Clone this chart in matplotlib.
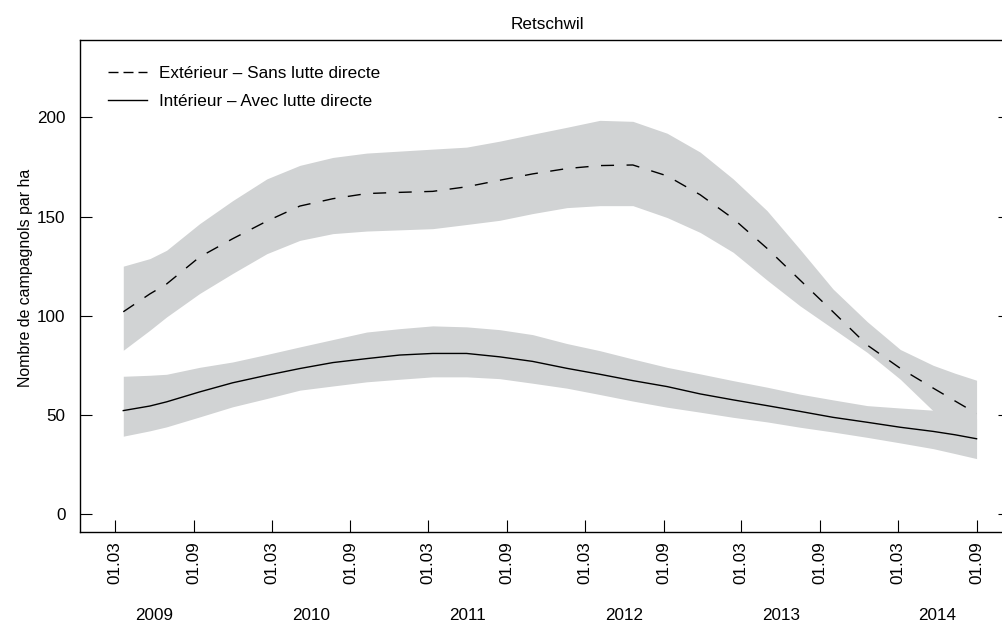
import numpy as np
import matplotlib
matplotlib.use("Agg")
import matplotlib.pyplot as plt
from matplotlib.lines import Line2D
from matplotlib.transforms import blended_transform_factory

# ---------------- data ----------------
dates = np.array([
    "2009-03-20", "2009-05-21", "2009-06-29", "2009-09-14", "2009-11-30",
    "2010-02-18", "2010-05-06", "2010-07-22", "2010-10-09", "2010-12-25",
    "2011-03-12", "2011-05-30", "2011-08-15", "2011-10-31", "2012-01-19",
    "2012-04-05", "2012-06-21", "2012-09-09", "2012-11-25", "2013-02-10",
    "2013-04-30", "2013-07-16", "2013-10-01", "2013-12-20", "2014-03-07",
    "2014-05-23", "2014-07-13", "2014-09-01"], dtype="datetime64[D]")

ext_mean = [102, 111, 116, 129.6, 138.8, 147.7, 155.3, 159, 161.6, 162.2,
            162.7, 165, 168.3, 171.5, 174.2, 175.7, 176, 170.5, 161, 149,
            134, 118, 102, 85.2, 73.5, 63.5, 57, 50.7]
ext_hi = [125, 128.8, 133, 146.4, 158, 169, 175.8, 179.8, 182, 183,
          184, 185, 188, 191.5, 195, 198.5, 198, 192, 182.5, 169,
          153, 133.5, 113.5, 97, 83, 75, 71, 67.5]
ext_lo = [82.6, 92.7, 99.4, 111.2, 121.3, 131.3, 138, 141.4, 142.7, 143.3,
          143.9, 146, 148.1, 151.5, 154.5, 155.5, 155.5, 149.5, 142, 132,
          118, 105, 93.5, 81.5, 68, 52, 45, 38]

int_mean = [52.2, 54.5, 56.6, 61.6, 66.2, 70, 73.4, 76.4, 78.4, 80.2,
            81, 81, 79.3, 77, 73.5, 70.5, 67.3, 64.3, 60.6, 57.6,
            54.7, 51.8, 48.8, 46.3, 43.8, 41.7, 40, 38]
int_hi = [69.5, 70, 70.5, 74, 76.7, 80.5, 84.3, 88, 91.8, 93.5,
          94.9, 94.4, 93, 90.5, 86, 82.4, 78.2, 74, 70.7, 67.3,
          64, 60.5, 57.6, 54.7, 53.5, 52.4, 50, 48]
int_lo = [39.3, 42, 44, 49, 54.1, 58.3, 62.5, 64.6, 66.7, 68,
          69.2, 69.2, 68.3, 66, 63.5, 60.3, 57, 53.9, 51.4, 48.8,
          46.5, 43.8, 41.4, 38.7, 35.9, 33, 30.5, 28]

tick_dates = np.array(["2009-03-01", "2009-09-01", "2010-03-01", "2010-09-01",
                       "2011-03-01", "2011-09-01", "2012-03-01", "2012-09-01",
                       "2013-03-01", "2013-09-01", "2014-03-01", "2014-09-01"],
                      dtype="datetime64[D]")
tick_labels = ["01.03", "01.09"] * 6
years = ["2009", "2010", "2011", "2012", "2013", "2014"]
year_pos = np.array(["2009-06-01", "2010-06-01", "2011-06-01",
                     "2012-06-01", "2013-06-01", "2014-06-01"], dtype="datetime64[D]")
yticks = [0, 50, 100, 150, 200]

label_ext = "Extérieur – Sans lutte directe"
label_int = "Intérieur – Avec lutte directe"

# ---------------- style ----------------
REG = ["Liberation Sans", "DejaVu Sans"]
plt.rcParams["font.family"] = REG
band_col = "#d1d3d4"

W, H = 1002, 621
fig = plt.figure(figsize=(W / 100, H / 100), dpi=100)
ax = fig.add_axes([80 / W, 89 / H, 930 / W, 492 / H])

ax.fill_between(dates, ext_lo, ext_hi, color=band_col, lw=0)
ax.fill_between(dates, int_lo, int_hi, color=band_col, lw=0)
ax.plot(dates, ext_mean, color="black", lw=1.0, linestyle=(0, (9.4, 9.0)))
ax.plot(dates, int_mean, color="black", lw=1.0)

ax.set_xlim(np.datetime64("2008-12-09"), np.datetime64("2014-11-18"))
ax.set_ylim(-9, 239)

ax.set_xticks(tick_dates)
ax.set_xticklabels(tick_labels, rotation=90, fontsize=12.3)
ax.set_yticks(yticks)
ax.set_yticklabels([str(v) for v in yticks], fontsize=12.3)

ax.tick_params(axis="x", direction="in", length=8.6, width=0.8, pad=7, top=False)
ax.tick_params(axis="y", direction="in", length=8.6, width=0.8, pad=10.3,
               right=True, labelright=False)
for sp in ["left", "bottom", "top"]:
    ax.spines[sp].set_linewidth(1.0)
ax.spines["right"].set_visible(False)

# legend
h_ext = Line2D([], [], color="black", lw=1.0, linestyle=(0, (7.2, 3.6)))
h_int = Line2D([], [], color="black", lw=1.0)
leg = ax.legend([h_ext, h_int], [label_ext, label_int], loc="upper left",
                bbox_to_anchor=(0.0301, 0.948), frameon=False, borderpad=0,
                borderaxespad=0, handlelength=2.3, handletextpad=0.7,
                labelspacing=0.79, prop={"size": 12.3})

# title, y label, year labels
fig.text(547.5 / W, 1 - 29.3 / H, "Retschwil", ha="center", va="baseline",
         fontsize=12.3)
fig.text(25.7 / W, 1 - 277.5 / H, "Nombre de campagnols par ha", rotation=90,
         ha="center", va="center", fontsize=11.4)
trans = blended_transform_factory(ax.transData, fig.transFigure)
for yp, yl in zip(year_pos, years):
    ax.text(yp, 1 - 619.5 / H, yl, transform=trans, ha="center", va="baseline",
            fontsize=12.3, clip_on=False)

fig.savefig("out.png", dpi=100)
